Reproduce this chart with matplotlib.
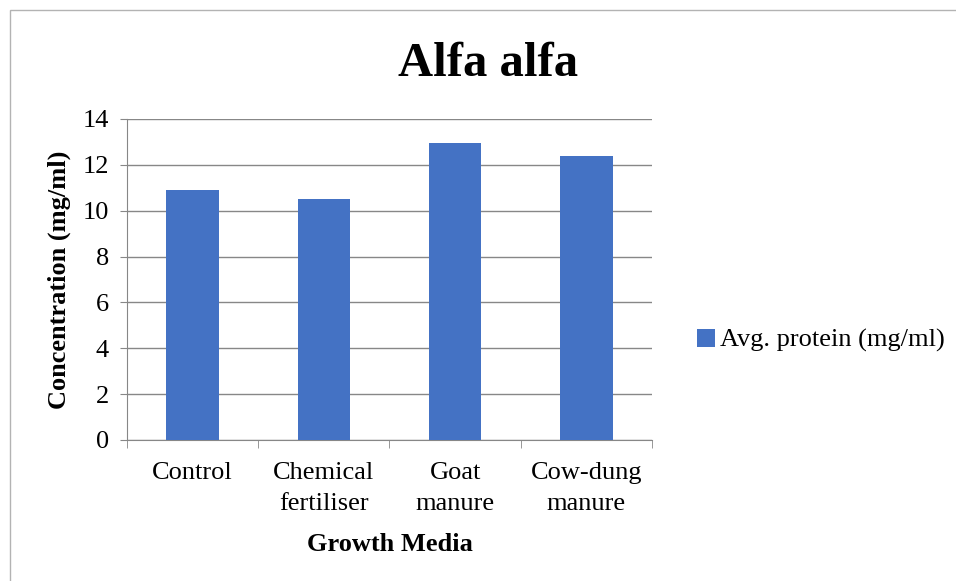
import matplotlib.pyplot as plt
from matplotlib.patches import Rectangle
from matplotlib.ticker import FixedLocator

# Growth media and mean protein readings
media = ["Control", "Chemical\nfertiliser", "Goat\nmanure", "Cow-dung\nmanure"]
avg_protein = [10.89, 10.51, 12.94, 12.39]
y_ticks = [0, 2, 4, 6, 8, 10, 12, 14]

plt.rcParams['font.family'] = ['Liberation Serif', 'DejaVu Serif']

bar_color = "#4472C4"
grid_color = "#878787"
fs = 19

fig = plt.figure(figsize=(9.56, 5.81), dpi=100)
ax = fig.add_axes([0.1328, 0.2427, 0.5492, 0.5525])

# outer chart frame
fig.patches.append(Rectangle((10 / 956, -0.01), 1.0, 1 - 10 / 581 + 0.01,
                             transform=fig.transFigure, fill=False,
                             edgecolor="#b3b3b3", linewidth=1.0))

x = list(range(len(media)))
ax.bar(x, avg_protein, width=0.4, color=bar_color, zorder=3,
       label="Avg. protein (mg/ml)")

ax.set_xlim(-0.5, len(media) - 0.5)
ax.set_ylim(0, 14)
ax.set_yticks(y_ticks)
ax.yaxis.grid(True, color=grid_color, linewidth=1.0, zorder=0)

ax.set_xticks(x)
ax.set_xticklabels(media, fontsize=fs, linespacing=1.5)
ax.xaxis.set_minor_locator(FixedLocator([i - 0.5 for i in range(len(media) + 1)]))
ax.tick_params(axis="x", which="major", length=0, pad=16)
ax.tick_params(axis="x", which="minor", length=6, color=grid_color, direction="out")
ax.tick_params(axis="y", labelsize=fs, length=5, color=grid_color, pad=8)

for side in ["top", "right"]:
    ax.spines[side].set_visible(False)
for side in ["left", "bottom"]:
    ax.spines[side].set_color(grid_color)

ax.set_xlabel("Growth Media", fontsize=fs, fontweight="bold", labelpad=13)
ax.set_ylabel("Concentration (mg/ml)", fontsize=fs, fontweight="bold", labelpad=8)

fig.text(0.511, 0.89, "Alfa alfa", fontsize=35, fontweight="bold",
         ha="center", va="center")

ax.legend(loc="center left", bbox_to_anchor=(1.04, 0.31), frameon=False,
          fontsize=fs, handlelength=0.7, handleheight=0.7, handletextpad=0.2)

fig.savefig("out.png", dpi=100)
